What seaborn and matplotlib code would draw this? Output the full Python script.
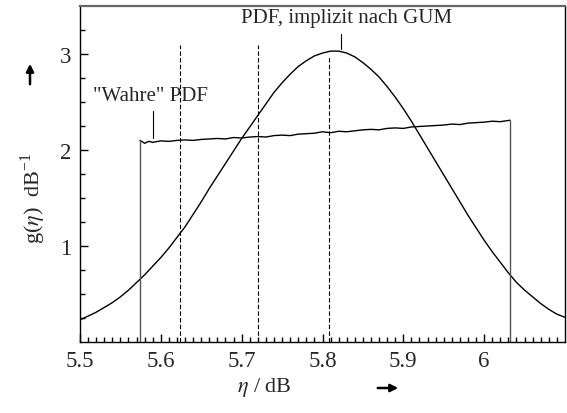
import numpy as np
import pandas as pd
import matplotlib
matplotlib.use('Agg')
import matplotlib.pyplot as plt
import seaborn as sns

# PDF, implizit nach GUM (step 0.01 dB)
eta_gum = [5.50, 5.51, 5.52, 5.53, 5.54, 5.55, 5.56, 5.57, 5.58, 5.59,
           5.60, 5.61, 5.62, 5.63, 5.64, 5.65, 5.66, 5.67, 5.68, 5.69,
           5.70, 5.71, 5.72, 5.73, 5.74, 5.75, 5.76, 5.77, 5.78, 5.79,
           5.80, 5.81, 5.82, 5.83, 5.84, 5.85, 5.86, 5.87, 5.88, 5.89,
           5.90, 5.91, 5.92, 5.93, 5.94, 5.95, 5.96, 5.97, 5.98, 5.99,
           6.00, 6.01, 6.02, 6.03, 6.04, 6.05, 6.06, 6.07, 6.08, 6.09, 6.10]
g_gum = [0.23, 0.27, 0.31, 0.36, 0.41, 0.47, 0.54, 0.62, 0.70, 0.79,
         0.88, 0.98, 1.09, 1.20, 1.33, 1.46, 1.60, 1.73, 1.86, 1.99,
         2.12, 2.24, 2.36, 2.48, 2.60, 2.70, 2.79, 2.87, 2.93, 2.98,
         3.01, 3.03, 3.03, 3.01, 2.97, 2.91, 2.84, 2.76, 2.66, 2.55,
         2.43, 2.30, 2.16, 2.02, 1.88, 1.74, 1.60, 1.46, 1.32, 1.19,
         1.06, 0.94, 0.83, 0.72, 0.62, 0.54, 0.47, 0.40, 0.34, 0.29, 0.257]

# "Wahre" PDF
eta_true = [5.5743, 5.58, 5.585, 5.59, 5.60, 5.61, 5.62, 5.63, 5.64, 5.65,
            5.66, 5.67, 5.68, 5.69, 5.70, 5.71, 5.72, 5.73, 5.74, 5.75,
            5.76, 5.77, 5.78, 5.79, 5.80, 5.81, 5.82, 5.83, 5.84, 5.85,
            5.86, 5.87, 5.88, 5.89, 5.90, 5.91, 5.92, 5.93, 5.94, 5.95,
            5.96, 5.97, 5.98, 5.99, 6.00, 6.01, 6.02, 6.032]
g_true = [2.10, 2.07, 2.09, 2.08, 2.095, 2.09, 2.10, 2.105, 2.10, 2.11,
          2.115, 2.12, 2.115, 2.13, 2.125, 2.135, 2.14, 2.135, 2.15, 2.155,
          2.15, 2.165, 2.17, 2.175, 2.19, 2.18, 2.195, 2.19, 2.20, 2.21,
          2.215, 2.21, 2.225, 2.23, 2.225, 2.24, 2.245, 2.25, 2.255, 2.26,
          2.27, 2.265, 2.28, 2.285, 2.29, 2.30, 2.295, 2.31]
true_lo, true_hi = 5.5743, 6.032

# dashed marker lines: position, height
dash_x = [5.6238, 5.7199, 5.808]
dash_top = [3.09, 3.09, 2.97]

sns.set_theme(style='ticks')
plt.rcParams['font.family'] = ['Liberation Serif', 'DejaVu Serif']
plt.rcParams['mathtext.fontset'] = 'stix'

fig = plt.figure(figsize=(5.67, 4.14), dpi=100)
ax = fig.add_axes([80/567, 71/414, 485/567, 336/414])

df_gum = pd.DataFrame({'eta': eta_gum, 'g': g_gum})
df_true = pd.DataFrame({'eta': eta_true, 'g': g_true})
sns.lineplot(data=df_gum, x='eta', y='g', color='black', lw=1.0, ax=ax)
sns.lineplot(data=df_true, x='eta', y='g', color='black', lw=1.0, ax=ax)
ax.vlines([true_lo, true_hi], 0, [g_true[0], g_true[-1]], color='#555555', lw=1.0)
ax.vlines(dash_x, 0, dash_top, color='black', lw=0.8, linestyles=(0, (4, 2)))

ax.set_xlim(5.5, 6.1)
ax.set_ylim(0, 3.5)
ax.set_xticks([5.5, 5.6, 5.7, 5.8, 5.9, 6.0])
ax.set_xticklabels(['5.5', '5.6', '5.7', '5.8', '5.9', '6'])
ax.set_xticks(np.arange(5.5, 6.1, 0.01), minor=True)
ax.set_yticks([1, 2, 3])
ax.set_yticks(np.arange(0.25, 3.5, 0.25), minor=True)
ax.tick_params(which='both', direction='in', labelsize=16.5, width=1, color='black', pad=6)
ax.tick_params(which='major', length=6)
ax.tick_params(which='minor', length=3.5)
for s in ax.spines.values():
    s.set_color('black')
    s.set_linewidth(1.0)
ax.spines['top'].set_color('#666666')
ax.spines['top'].set_linewidth(1.6)

ax.set_xlabel(r'$\eta$ / dB', fontsize=16)
ax.xaxis.set_label_coords(0.381, -0.131)
ax.xaxis.label.set_va('center')
ax.set_ylabel(r'g($\eta$)  dB$^{\mathregular{-1}}$', fontsize=16)
ax.yaxis.set_label_coords(-0.097, 0.432)
ax.yaxis.label.set_va('center')

ax.text(5.83, 3.38, 'PDF, implizit nach GUM', fontsize=15, ha='center', va='center')
ax.plot([5.8226, 5.8226], [3.21, 3.05], color='black', lw=0.8)
ax.text(5.587, 2.57, '"Wahre" PDF', fontsize=15, ha='center', va='center')
ax.plot([5.590, 5.590], [2.41, 2.12], color='black', lw=0.8)

# axis direction arrows
fig.add_artist(plt.matplotlib.patches.FancyArrowPatch((375/567, 25/414), (401/567, 25/414),
               transform=fig.transFigure, arrowstyle='-|>', mutation_scale=11, lw=1.8, color='black'))
fig.add_artist(plt.matplotlib.patches.FancyArrowPatch((30/567, 326/414), (30/567, 352/414),
               transform=fig.transFigure, arrowstyle='-|>', mutation_scale=11, lw=1.8, color='black'))

fig.savefig('out.png', dpi=100)
